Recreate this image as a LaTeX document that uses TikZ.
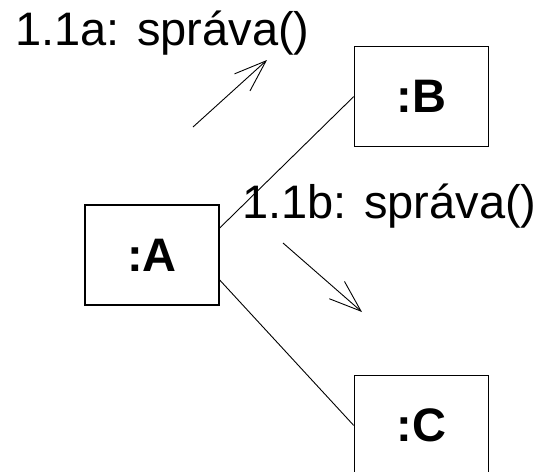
\documentclass[tikz,border=0pt]{standalone}
\usepackage{fontspec}
\setmainfont{Liberation Sans}
\usetikzlibrary{positioning,arrows.meta}
\tikzset{
 obj/.style
  = {rectangle, draw, line width=1.4pt, minimum width=134pt, minimum height=100pt,
     inner sep=0pt, font=\fontsize{47}{56}\selectfont\bfseries},
 lnk/.style
  = {draw, line width=0.9pt},
 msg/.style
  = {draw, line width=0.9pt, -{Straight Barb[length=32pt,width=23pt]}},
 lbl/.style
  = {inner sep=0pt, anchor=base west, font=\fontsize{47}{56}\selectfont},
}

\begin{document}
\begin{tikzpicture}[x=1pt, y=-1pt]
    \useasboundingbox (0,0) rectangle (542,472);
    \node [obj] (objA) at (152,255) {:A};
    \node [obj, above right = 57pt and 134pt of objA] (objB) {:B};
    \node [obj, below right = 69pt and 134pt of objA] (objC) {:C};

    \path [lnk] ([yshift=27pt]objA.east) -- (objB.west);
    \path [lnk] ([yshift=-25pt]objA.east) -- (objC.west);

    \coordinate (msgAfrom) at (193,127);
    \coordinate (msgAto) at (267,60);
    \coordinate (msgBfrom) at (283,243);
    \coordinate (msgBto) at (362,312);
    \path [msg] (msgAfrom) -- (msgAto);
    \path [msg] (msgBfrom) -- (msgBto);
    \node [lbl] (textA) at (15,45) {1.1a: správa()};
    \node [lbl] (textB) at (242,218) {1.1b: správa()};
\end{tikzpicture}
\end{document}
